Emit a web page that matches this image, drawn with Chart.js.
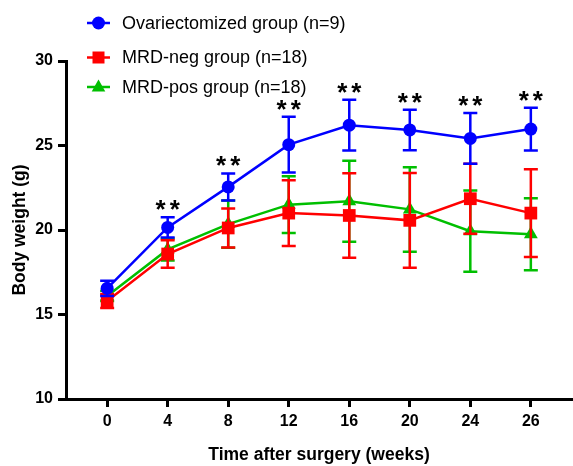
<!DOCTYPE html>
<html><head><meta charset="utf-8">
<script src="https://cdn.jsdelivr.net/npm/chart.js@4/dist/chart.umd.min.js"></script>
<style>html,body{margin:0;padding:0;background:#fff;}canvas{display:block;}</style>
</head><body>
<canvas id="c" width="573" height="466"></canvas>
<script>
// ---- data ----
const weeks = ['0', '4', '8', '12', '16', '20', '24', '26'];
const seriesNames = ['Ovariectomized group (n=9)', 'MRD-neg group (n=18)', 'MRD-pos group (n=18)'];
const ovxMean = [16.55, 20.15, 22.55, 25.05, 26.2, 25.92, 25.42, 25.97];
const ovxSD   = [0.45, 0.6, 0.8, 1.65, 1.5, 1.2, 1.5, 1.27];
const negMean = [15.8, 18.58, 20.12, 21.0, 20.86, 20.57, 21.85, 21.0];
const negSD   = [0.42, 0.82, 1.15, 1.95, 2.5, 2.8, 2.07, 2.6];
const posMean = [16.1, 18.85, 20.35, 21.5, 21.7, 21.22, 19.93, 19.75];
const posSD   = [0.3, 0.65, 1.4, 1.68, 2.4, 2.5, 2.4, 2.13];
const sigMarks = ['', '**', '**', '**', '**', '**', '**', '**'];
const yTicks = [10, 15, 20, 25, 30];

const BLUE = '#0000FF', RED = '#FF0000', GREEN = '#00BF00';
const toPts = arr => arr.map((v, i) => ({x: i, y: v}));

const errorBars = {
  id: 'errorBars',
  beforeDatasetDraw(chart, args) {
    const ds = chart.data.datasets[args.index];
    const ys = chart.scales.y;
    const ctx = chart.ctx;
    ctx.save();
    ctx.strokeStyle = ds.borderColor;
    ctx.lineWidth = 2.5;
    args.meta.data.forEach((pt, i) => {
      const m = ds.data[i].y, e = ds.errors[i];
      const yt = ys.getPixelForValue(m + e), yb = ys.getPixelForValue(m - e);
      ctx.beginPath();
      ctx.moveTo(pt.x, yt); ctx.lineTo(pt.x, yb);
      ctx.moveTo(pt.x - 7, yt); ctx.lineTo(pt.x + 7, yt);
      ctx.moveTo(pt.x - 7, yb); ctx.lineTo(pt.x + 7, yb);
      ctx.stroke();
    });
    ctx.restore();
  }
};

const stars = {
  id: 'stars',
  afterDatasetsDraw(chart) {
    const ctx = chart.ctx, xs = chart.scales.x, ys = chart.scales.y;
    ctx.save();
    ctx.fillStyle = '#000';
    ctx.font = 'bold 26px Arial, "Liberation Sans", sans-serif';
    ctx.textAlign = 'center';
    ctx.textBaseline = 'alphabetic';
    try { ctx.letterSpacing = '4px'; } catch (e) {}
    sigMarks.forEach((s, i) => {
      if (!s) return;
      const m = ctx.measureText(s);
      const inkMid = (m.actualBoundingBoxAscent - m.actualBoundingBoxDescent) / 2;
      const x = xs.getPixelForValue(i);
      const y = ys.getPixelForValue(ovxMean[i] + ovxSD[i]) - 12;
      ctx.fillText(s, x + 2, y + inkMid);
    });
    ctx.restore();
  }
};

function marker(ctx, style, x, y, color) {
  ctx.fillStyle = color;
  ctx.beginPath();
  if (style === 'circle') {
    ctx.arc(x, y, 6.5, 0, Math.PI * 2);
  } else if (style === 'rect') {
    ctx.rect(x - 6, y - 6, 12, 12);
  } else {
    ctx.moveTo(x, y - 7.5); ctx.lineTo(x + 6.8, y + 4.5); ctx.lineTo(x - 6.8, y + 4.5); ctx.closePath();
  }
  ctx.fill();
}

const legendRows = [23, 57.5, 87];
const customLegend = {
  id: 'customLegend',
  afterDraw(chart) {
    const ctx = chart.ctx;
    ctx.save();
    chart.data.datasets.forEach((ds, i) => {
      const y = legendRows[i];
      ctx.strokeStyle = ds.borderColor;
      ctx.lineWidth = 2.5;
      ctx.beginPath(); ctx.moveTo(87, y); ctx.lineTo(110, y); ctx.stroke();
      marker(ctx, ds.pointStyle, 98.5, y, ds.borderColor);
      ctx.fillStyle = '#000';
      ctx.font = '18px Arial, "Liberation Sans", sans-serif';
      ctx.textAlign = 'left';
      ctx.textBaseline = 'middle';
      ctx.fillText(ds.label, 122, y + 1);
    });
    ctx.restore();
  }
};

const tickFont = {family: 'Arial, "Liberation Sans", sans-serif', weight: 'bold', size: 16};
const titleFont = {family: 'Arial, "Liberation Sans", sans-serif', weight: 'bold', size: 17.5};

new Chart(document.getElementById('c'), {
  type: 'line',
  data: {
    datasets: [
      {label: seriesNames[0], data: toPts(ovxMean), errors: ovxSD, borderColor: BLUE, backgroundColor: BLUE,
       pointStyle: 'circle', pointRadius: 6.5, pointBorderWidth: 0, borderWidth: 2.5},
      {label: seriesNames[1], data: toPts(negMean), errors: negSD, borderColor: RED, backgroundColor: RED,
       pointStyle: 'rect', pointRadius: 9, pointBorderWidth: 0, borderWidth: 2.5},
      {label: seriesNames[2], data: toPts(posMean), errors: posSD, borderColor: GREEN, backgroundColor: GREEN,
       pointStyle: 'triangle', pointRadius: 8, pointBorderWidth: 0, borderWidth: 2.5}
    ]
  },
  options: {
    responsive: false,
    animation: false,
    devicePixelRatio: 1,
    layout: {autoPadding: false, padding: {top: 61, right: 1, left: 0, bottom: 0}},
    plugins: {legend: {display: false}, tooltip: {enabled: false}},
    scales: {
      x: {
        type: 'linear', min: -0.68, max: 7.68,
        afterBuildTicks: s => { s.ticks = weeks.map((_, i) => ({value: i})); },
        afterFit: s => { s.height = 67; s.paddingLeft = 0; s.paddingRight = 0; },
        ticks: {callback: v => weeks[v], autoSkip: false, maxRotation: 0, color: '#000', font: tickFont, padding: 5},
        grid: {drawOnChartArea: false, drawTicks: true, tickLength: 8, tickWidth: 3, color: '#000'},
        border: {display: true, width: 3, color: '#000'},
        title: {display: true, text: 'Time after surgery (weeks)', color: '#000', font: titleFont, padding: {top: 0, bottom: 0}}
      },
      y: {
        type: 'linear', min: 10, max: 30,
        afterBuildTicks: s => { s.ticks = yTicks.map(v => ({value: v})); },
        afterFit: s => { s.width = 66; s.paddingTop = 0; s.paddingBottom = 0; },
        ticks: {color: '#000', font: tickFont, padding: 5},
        grid: {drawOnChartArea: false, drawTicks: true, tickLength: 8, tickWidth: 3, color: '#000'},
        border: {display: true, width: 3, color: '#000'},
        title: {display: true, text: 'Body weight (g)', color: '#000', font: titleFont, padding: {top: 10, bottom: 0}}
      }
    }
  },
  plugins: [errorBars, stars, customLegend]
});
</script>
</body></html>
